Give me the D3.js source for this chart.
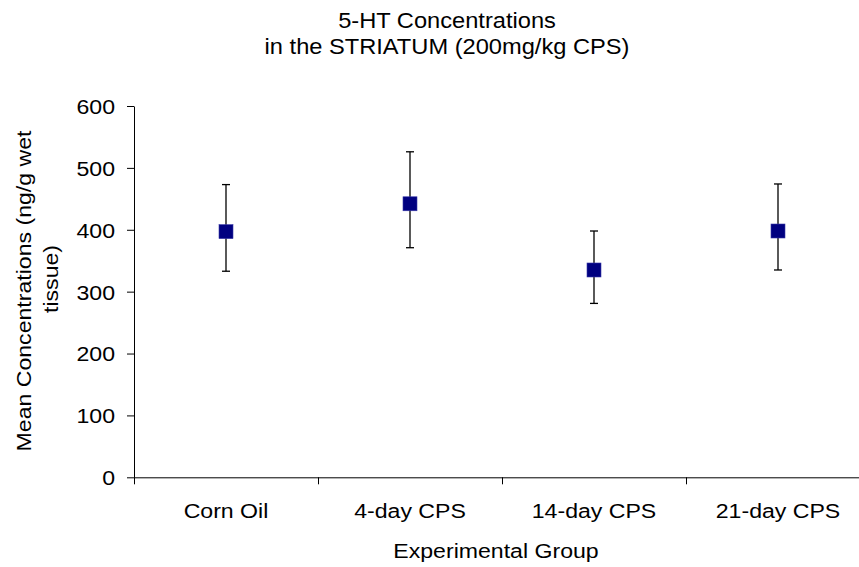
<!DOCTYPE html>
<html>
<head>
<meta charset="utf-8">
<script src="https://cdn.jsdelivr.net/npm/d3@7"></script>
<style>
  html, body { margin: 0; padding: 0; background: #fff; }
  svg { display: block; }
  text { font-family: Arial, "Liberation Sans", sans-serif; fill: #000; }
</style>
</head>
<body>
<div id="chart"></div>
<script>
// Group names along the x axis
const groups = ["Corn Oil", "4-day CPS", "14-day CPS", "21-day CPS"];
// Mean 5-HT concentration per group (ng/g wet tissue)
const means = [397, 442, 335, 398];
// Top and bottom ends of each error bar
const upper = [473, 526, 398, 474];
const lower = [333, 371, 281, 335];
// Y axis tick values
const yTicks = [0, 100, 200, 300, 400, 500, 600];

const titleLines = ["5-HT Concentrations", "in the STRIATUM (200mg/kg CPS)"];
const yTitleLines = ["Mean Concentrations (ng/g wet", "tissue)"];
const xTitle = "Experimental Group";

const W = 859, H = 567;
const plotLeft = 134, plotRight = 870, plotTop = 106, plotBottom = 477.3;
const fontSize = 21;
const titleSize = 21.5;
const stretch = 1.1;   // glyphs are drawn a little wider than plain Arial

const svg = d3.select("#chart").append("svg")
  .attr("width", W).attr("height", H);

const y = d3.scaleLinear().domain([0, 600]).range([plotBottom, plotTop]);
const x = d3.scaleBand().domain(groups).range([plotLeft, plotRight]).padding(0);
const edges = d3.scaleLinear().domain([0, groups.length]).range([plotLeft, plotRight]);

// helper: text stretched horizontally around its anchor point
function label(g, str, tx, ty, rot, anchor, fs) {
  return g.append("text")
    .attr("transform", `translate(${tx},${ty}) rotate(${rot}) scale(${stretch},1)`)
    .attr("text-anchor", anchor)
    .style("font-size", (fs || fontSize) + "px")
    .text(str);
}

// title
titleLines.forEach((t, i) => label(svg, t, 447, 27.8 + i * 26.3, 0, "middle", titleSize));

// y axis
const yAxis = svg.append("g")
  .attr("transform", `translate(${plotLeft},0)`)
  .call(d3.axisLeft(y).tickValues(yTicks).tickSize(7).tickSizeOuter(0).tickPadding(13));
yAxis.selectAll("path, line").attr("stroke", "#000").attr("stroke-width", 1);
yAxis.selectAll("text")
  .style("font-size", fontSize + "px")
  .style("font-family", 'Arial, "Liberation Sans", sans-serif')
  .attr("x", null).attr("dy", "0.35em")
  .attr("transform", `translate(-19,0) scale(${stretch},1)`);

// x axis line with ticks at group boundaries
const xEdges = svg.append("g")
  .attr("transform", `translate(0,${plotBottom})`)
  .call(d3.axisBottom(edges).tickValues(d3.range(groups.length + 1))
    .tickSize(7).tickSizeOuter(0).tickFormat(""));
xEdges.selectAll("path, line").attr("stroke", "#000").attr("stroke-width", 1);

// x category labels at group centres
const xLabels = svg.append("g")
  .attr("transform", `translate(0,${plotBottom})`)
  .call(d3.axisBottom(x).tickSize(0).tickPadding(0));
xLabels.select(".domain").remove();
xLabels.selectAll("text")
  .style("font-size", fontSize + "px")
  .style("font-family", 'Arial, "Liberation Sans", sans-serif')
  .attr("y", null).attr("dy", null)
  .attr("transform", `translate(0,${518 - plotBottom}) scale(${stretch},1)`);

// axis titles
label(svg, xTitle, 496, 558, 0, "middle");
label(svg, yTitleLines[0], 31, 291, -90, "middle");
label(svg, yTitleLines[1], 58, 279, -90, "middle");

// error bars
const cap = 4;
const bars = svg.append("g").attr("stroke", "#000").attr("stroke-width", 1.3);
groups.forEach((g, i) => {
  const cx = x(g) + x.bandwidth() / 2;
  bars.append("line").attr("x1", cx).attr("x2", cx).attr("y1", y(upper[i])).attr("y2", y(lower[i]));
  bars.append("line").attr("x1", cx - cap).attr("x2", cx + cap).attr("y1", y(upper[i])).attr("y2", y(upper[i]));
  bars.append("line").attr("x1", cx - cap).attr("x2", cx + cap).attr("y1", y(lower[i])).attr("y2", y(lower[i]));
});

// mean markers
const size = 14;
svg.append("g").selectAll("rect").data(groups).join("rect")
  .attr("x", d => x(d) + x.bandwidth() / 2 - size / 2)
  .attr("y", (d, i) => y(means[i]) - size / 2)
  .attr("width", size).attr("height", size)
  .attr("fill", "#000080")
  .attr("stroke", "#3a3aa8").attr("stroke-width", 0.6);
</script>
</body>
</html>
